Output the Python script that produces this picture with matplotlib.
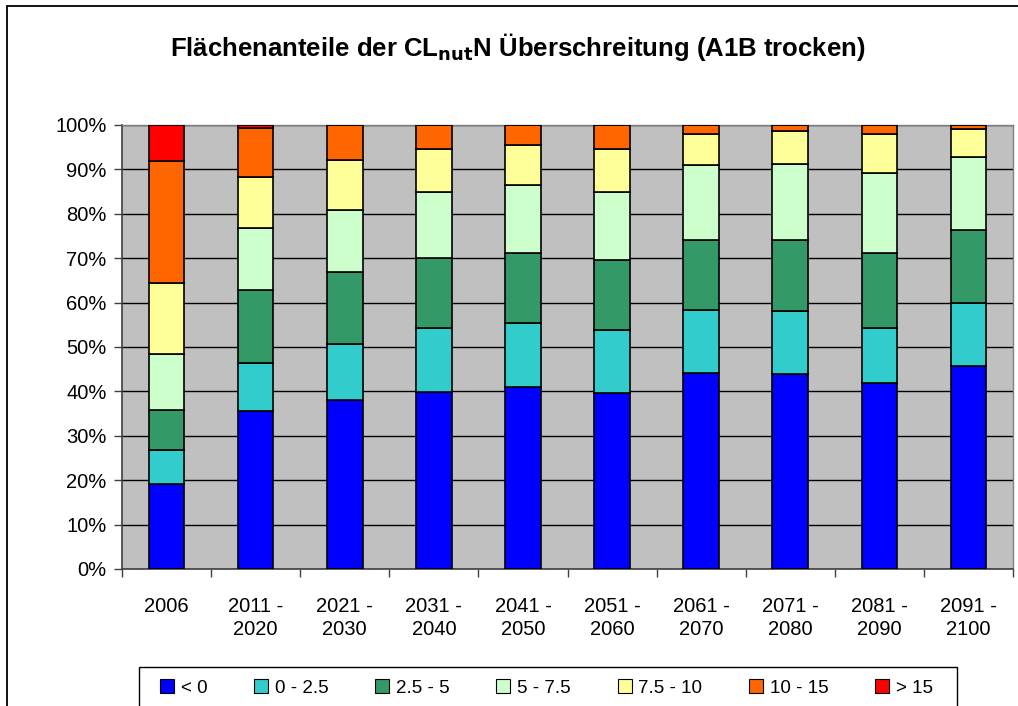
import numpy as np
import matplotlib
matplotlib.use('Agg')
import matplotlib.pyplot as plt
from matplotlib.patches import Rectangle

plt.rcParams['font.family'] = ['Liberation Sans', 'DejaVu Sans']

periods = ['2006', '2011 -\n2020', '2021 -\n2030', '2031 -\n2040', '2041 -\n2050',
           '2051 -\n2060', '2061 -\n2070', '2071 -\n2080', '2081 -\n2090', '2091 -\n2100']
classes = ['< 0', '0 - 2.5', '2.5 - 5', '5 - 7.5', '7.5 - 10', '10 - 15', '> 15']
colors = ['#0000FF', '#33CCCC', '#339966', '#CCFFCC', '#FFFF99', '#FF6600', '#FF0000']

# percentage of area per exceedance class
lt0 = [19.1, 35.6, 38.1, 39.8, 41.0, 39.7, 44.2, 43.9, 42.0, 45.8]
c0_25 = [7.7, 10.9, 12.6, 14.4, 14.5, 14.1, 14.1, 14.2, 12.2, 14.2]
c25_5 = [9.0, 16.3, 16.3, 15.8, 15.7, 15.8, 15.9, 16.1, 17.0, 16.4]
c5_75 = [12.6, 13.9, 13.9, 14.8, 15.2, 15.2, 16.7, 17.1, 18.1, 16.5]
c75_10 = [16.1, 11.7, 11.2, 9.9, 9.1, 9.9, 7.1, 7.4, 8.7, 6.1]
c10_15 = [27.4, 10.9, 7.9, 5.3, 4.5, 5.3, 2.0, 1.3, 2.0, 1.0]
gt15 = [8.1, 0.7, 0.0, 0.0, 0.0, 0.0, 0.0, 0.0, 0.0, 0.0]

series = [lt0, c0_25, c25_5, c5_75, c75_10, c10_15, gt15]

W, H = 1018, 706
fig = plt.figure(figsize=(W / 100, H / 100), dpi=100)
# chart border (runs off the right and bottom edge)
fig.patches.append(Rectangle((7 / W, -0.1), 1.2, 1.1 - 6 / H, transform=fig.transFigure,
                             fill=False, edgecolor='black', linewidth=1.3))

ax = fig.add_axes([122 / W, 1 - 569 / H, (1013 - 122) / W, (569 - 125) / H])
ax.set_facecolor('#C0C0C0')

x = np.arange(len(periods))
total = np.sum(np.array(series), axis=0)
bottom = np.zeros(len(periods))
for vals, col, lab in zip(series, colors, classes):
    v = np.array(vals) / total * 100
    ax.bar(x, v, width=0.4, bottom=bottom, color=col, edgecolor='black',
           linewidth=1.2, label=lab, zorder=3)
    bottom += v

ax.set_xlim(-0.5, len(periods) - 0.5)
ax.set_ylim(0, 100)
ax.set_yticks(np.arange(0, 101, 10))
ax.set_yticklabels([f'{t}%' for t in range(0, 101, 10)], fontsize=14.5)
ax.yaxis.grid(True, color='black', linewidth=1.0, zorder=1)
ax.set_axisbelow(True)

ax.set_xticks(x)
ax.set_xticklabels(periods, fontsize=14.5, linespacing=1.3)
ax.set_xticks(np.arange(-0.5, len(periods), 1), minor=True)
ax.tick_params(axis='x', which='major', length=0, pad=20)
ax.tick_params(axis='x', which='minor', length=6, color='#404040', width=1)
ax.tick_params(axis='y', length=6, color='#404040', width=1, pad=5)

for side in ['left', 'bottom']:
    ax.spines[side].set_color('#404040')
    ax.spines[side].set_linewidth(1.2)
for side in ['top', 'right']:
    ax.spines[side].set_color('#808080')
    ax.spines[side].set_linewidth(1.0)

fig.text(518 / W, 1 - 47 / H,
         r'Flächenanteile der CL$_{\mathbf{nut}}$N Überschreitung (A1B trocken)',
         ha='center', va='center', fontsize=18.5, fontweight='bold')

# legend box drawn separately, entries placed inside it
fig.patches.append(Rectangle((139 / W, -0.1), (957 - 139) / W, 0.1 + 1 - 667 / H,
                             transform=fig.transFigure, fill=False,
                             edgecolor='black', linewidth=1.0))
leg = fig.legend(loc='center left', bbox_to_anchor=(160 / W, 1 - 688 / H), ncol=7,
                 fontsize=13.5, frameon=False,
                 handlelength=0.75, handleheight=0.75, handletextpad=0.35,
                 columnspacing=2.5, borderpad=0, borderaxespad=0)
for h in leg.legend_handles:
    h.set_linewidth(0.8)

fig.savefig('out.png', dpi=100)
